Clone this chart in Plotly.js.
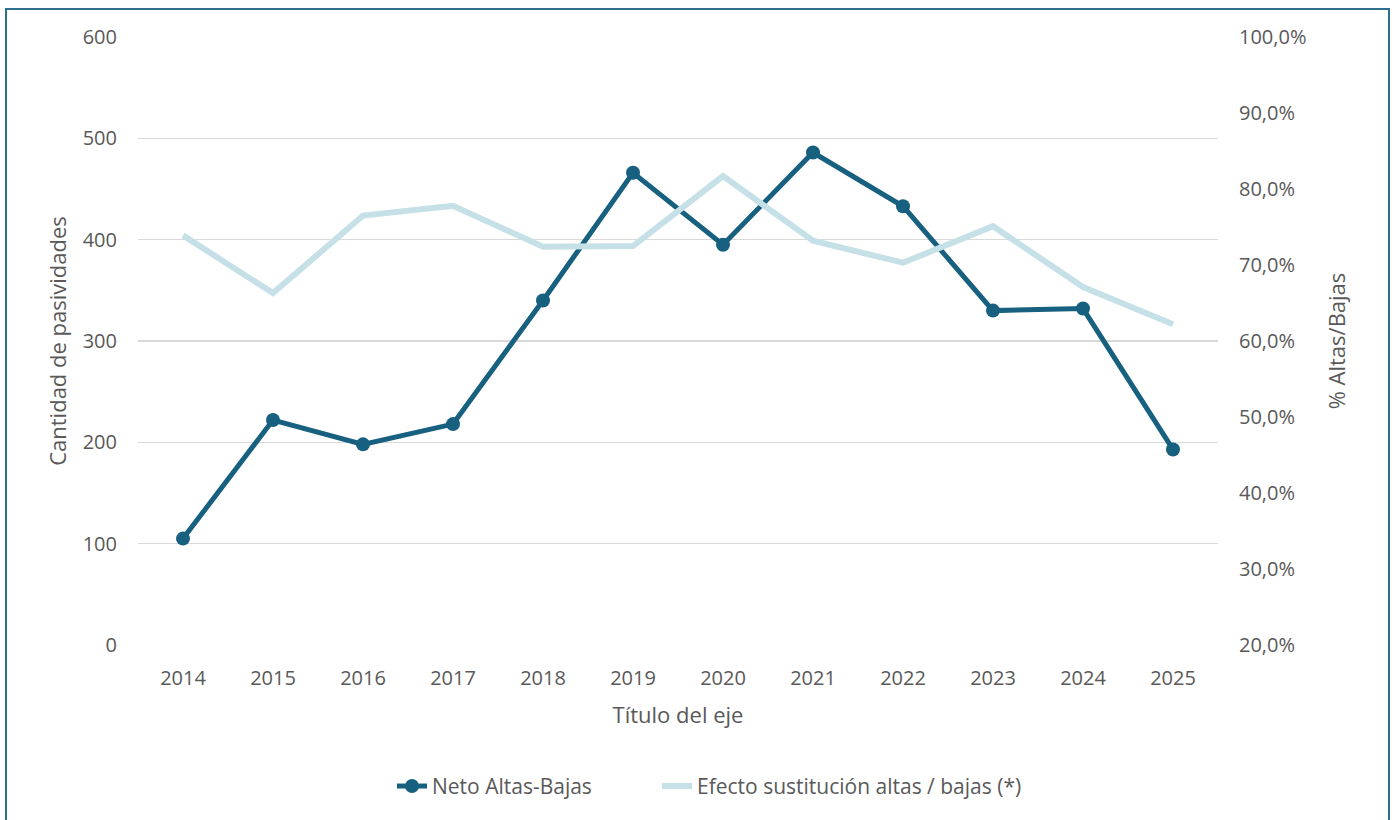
<!DOCTYPE html>
<html>
<head>
<meta charset="utf-8">
<script src="https://cdn.plot.ly/plotly-3.0.1.min.js"></script>
<style>
html,body{margin:0;padding:0;background:#fff;}
#wrap{position:relative;width:1394px;height:820px;overflow:hidden;}
#chart{position:absolute;left:0;top:0;width:1394px;height:820px;}
#frame{position:absolute;left:5px;top:8px;width:1381px;height:830px;border:2px solid #2f6e8c;pointer-events:none;}
</style>
</head>
<body>
<div id="wrap"><div id="chart"></div><div id="frame"></div></div>
<script>
const years = ['2014','2015','2016','2017','2018','2019','2020','2021','2022','2023','2024','2025'];
const netoAltasBajas = [105, 222, 198, 218, 340, 466, 395, 486, 433, 330, 332, 193];
const efectoSustitucion = [0.739, 0.663, 0.765, 0.778, 0.724, 0.725, 0.817, 0.732, 0.703, 0.751, 0.671, 0.622];
const leftTicks = [0, 100, 200, 300, 400, 500, 600];
const rightTicks = [0.2, 0.3, 0.4, 0.5, 0.6, 0.7, 0.8, 0.9, 1.0];

const txt = '#595959';
const fontFam = '"Open Sans", "DejaVu Sans", sans-serif';

const traces = [
  {
    x: years, y: netoAltasBajas, name: 'Neto Altas-Bajas', type: 'scatter', mode: 'lines+markers',
    line: {color: '#17607f', width: 5}, marker: {color: '#17607f', size: 14}, yaxis: 'y', legend: 'legend'
  },
  {
    x: years, y: efectoSustitucion, name: 'Efecto sustitución altas / bajas (*)', type: 'scatter', mode: 'lines',
    line: {color: '#c5e0e6', width: 6}, yaxis: 'y2', legend: 'legend2'
  }
];

const legendBase = {orientation: 'h', xref: 'container', yref: 'container', xanchor: 'left', y: 0.041, yanchor: 'middle',
                    font: {size: 21, color: txt}, bgcolor: 'rgba(0,0,0,0)'};

const layout = {
  width: 1394, height: 820,
  margin: {l: 138, r: 176, t: 37, b: 175},
  paper_bgcolor: '#ffffff', plot_bgcolor: '#ffffff',
  separators: ',.',
  font: {family: fontFam, size: 20, color: txt},
  showlegend: true,
  legend: Object.assign({}, legendBase, {x: 0.2812}),
  legend2: Object.assign({}, legendBase, {x: 0.4713}),
  xaxis: {
    type: 'category', range: [-0.5, 11.5], showgrid: false, zeroline: false, showline: false,
    ticks: '', ticklabelstandoff: 19, tickfont: {size: 20, color: txt},
    title: {text: 'Título del eje', font: {size: 22, color: txt}, standoff: 17}
  },
  yaxis: {
    range: [0, 600], tickvals: leftTicks, showgrid: true, gridcolor: '#d9d9d9', gridwidth: 1.5,
    zeroline: false, showline: false, ticks: '', ticklabelstandoff: 20, tickfont: {size: 20, color: txt},
    title: {text: 'Cantidad de pasividades', font: {size: 22, color: txt}, standoff: 9}
  },
  yaxis2: {
    overlaying: 'y', side: 'right', range: [0.2, 1.0], tickvals: rightTicks, tickformat: '.1%',
    showgrid: false, zeroline: false, showline: false, ticks: '', ticklabelstandoff: 20,
    tickfont: {size: 20, color: txt},
    title: {text: '% Altas/Bajas', font: {size: 22, color: txt}, standoff: 24}
  }
};

Plotly.newPlot('chart', traces, layout, {displayModeBar: false, staticPlot: true});
</script>
</body>
</html>
